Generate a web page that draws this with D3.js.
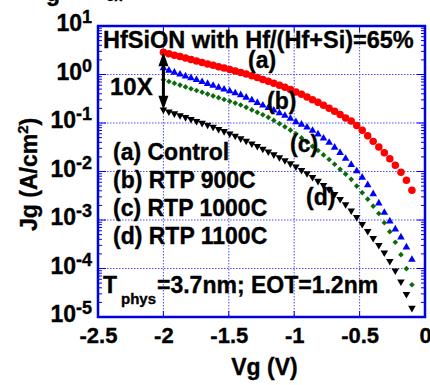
<!DOCTYPE html>
<html>
<head>
<meta charset="utf-8">
<script src="https://cdn.jsdelivr.net/npm/d3@7"></script>
<style>
    body { margin: 0; background: #fff; }
    svg text { font-family: "Liberation Sans", Arial, sans-serif; font-weight: bold; fill: #000; stroke: #000; stroke-width: 0.35px; }
</style>
</head>
<body>
<div id="container"></div>
<script>
// gate voltage sweep (V)
const vg = [-2.000, -1.958, -1.916, -1.873, -1.831, -1.789, -1.747, -1.704, -1.662, -1.620,
    -1.578, -1.536, -1.493, -1.451, -1.409, -1.367, -1.324, -1.282, -1.240, -1.198,
    -1.156, -1.113, -1.071, -1.029, -0.987, -0.944, -0.902, -0.860, -0.818, -0.776,
    -0.733, -0.691, -0.649, -0.607, -0.564, -0.522, -0.480, -0.438, -0.396, -0.353,
    -0.311, -0.269, -0.227, -0.184, -0.142, -0.100];

// leakage current density Jg (A/cm2)
const jgControl = [2.86, 2.67, 2.50, 2.34, 2.19, 2.04, 1.90, 1.77, 1.65, 1.55,
    1.45, 1.36, 1.27, 1.18, 1.10, 1.02, 0.94, 0.863, 0.792, 0.728,
    0.662, 0.601, 0.544, 0.491, 0.438, 0.391, 0.345, 0.303, 0.267, 0.233,
    0.202, 0.174, 0.150, 0.127, 0.110, 0.0887, 0.0711, 0.0547, 0.0418, 0.0321,
    0.0244, 0.0184, 0.0135, 0.00968, 0.00662, 0.00411];
const jgRtp900 = [1.35, 1.21, 1.10, 1.01, 0.923, 0.847, 0.774, 0.707, 0.646, 0.590,
    0.540, 0.493, 0.453, 0.413, 0.378, 0.336, 0.296, 0.262, 0.232, 0.206,
    0.182, 0.160, 0.142, 0.124, 0.105, 0.0931, 0.0815, 0.0700, 0.0587, 0.0484,
    0.0393, 0.0313, 0.0244, 0.0185, 0.0138, 0.0102, 0.00752, 0.00527, 0.00344, 0.00222,
    0.00142, 0.000944, 0.000646, 0.000442, 0.000275, 0.000152];
const jgRtp1000 = [0.781, 0.718, 0.659, 0.604, 0.555, 0.509, 0.468, 0.430, 0.394, 0.362,
    0.333, 0.305, 0.280, 0.257, 0.235, 0.210, 0.186, 0.166, 0.148, 0.131,
    0.113, 0.0968, 0.0832, 0.0711, 0.0601, 0.0493, 0.0404, 0.0330, 0.0271, 0.0220,
    0.0177, 0.0141, 0.0111, 0.00883, 0.00690, 0.00500, 0.00366, 0.00269, 0.00193, 0.00136,
    0.000879, 0.000574, 0.000348, 0.000193, 0.0000991, 0.0000463];
const jgRtp1100 = [0.188, 0.172, 0.157, 0.144, 0.131, 0.120, 0.109, 0.100, 0.0910, 0.0828,
    0.0748, 0.0675, 0.0604, 0.0540, 0.0479, 0.0426, 0.0376, 0.0333, 0.0292, 0.0256,
    0.0224, 0.0195, 0.0169, 0.0146, 0.0126, 0.0107, 0.00910, 0.00767, 0.00637, 0.00525,
    0.00426, 0.00340, 0.00269, 0.00210, 0.00156, 0.00114, 0.000818, 0.000587, 0.000422, 0.000302,
    0.000212, 0.000142, 0.0000902, 0.0000535, 0.0000295, 0.0000153];

const xTicks = [-2.5, -2, -1.5, -1, -0.5, 0];
const yExponents = [1, 0, -1, -2, -3, -4, -5];
const legendLabels = ["(a) Control", "(b) RTP 900C", "(c) RTP 1000C", "(d) RTP 1100C"];
const curveLabels = ["(a)", "(b)", "(c)", "(d)"];

const width = 430, height = 385;
const margin = {top: 26, right: 5, bottom: 68, left: 98};
const blue = "#0000e6";

const svg = d3.select("#container").append("svg")
    .attr("width", width)
    .attr("height", height);

const x = d3.scaleLinear().domain([-2.5, 0]).range([margin.left, width - margin.right]);
const y = d3.scaleLog().domain([1e-5, 10]).range([height - margin.bottom, margin.top]);

const x0 = x.range()[0], x1 = x.range()[1];
const yb = y.range()[0], yt = y.range()[1];

// gridlines
const grid = svg.append("g")
    .attr("stroke", "#4d4dff")
    .attr("stroke-width", 1)
    .attr("stroke-dasharray", "1.5,1.5");
grid.selectAll(".gx").data(xTicks.slice(1, -1)).enter().append("line")
    .attr("x1", d => x(d)).attr("x2", d => x(d))
    .attr("y1", yt).attr("y2", yb);
grid.selectAll(".gy").data(yExponents.slice(1, -1)).enter().append("line")
    .attr("x1", x0).attr("x2", x1)
    .attr("y1", d => y(Math.pow(10, d))).attr("y2", d => y(Math.pow(10, d)));

// ticks on all four sides, pointing in
const ticks = svg.append("g").attr("stroke", blue).attr("stroke-width", 1);
let minor = [];
for (let e = -5; e < 1; e++) {
    for (let m = 2; m < 10; m++) minor.push(m * Math.pow(10, e));
}
ticks.selectAll(".ml").data(minor).enter().append("line")
    .attr("x1", x0).attr("x2", x0 + 4)
    .attr("y1", d => y(d)).attr("y2", d => y(d));
ticks.selectAll(".mr").data(minor).enter().append("line")
    .attr("x1", x1 - 4).attr("x2", x1)
    .attr("y1", d => y(d)).attr("y2", d => y(d));
ticks.selectAll(".jl").data(yExponents).enter().append("line")
    .attr("x1", x0).attr("x2", x0 + 8)
    .attr("y1", d => y(Math.pow(10, d))).attr("y2", d => y(Math.pow(10, d)));
ticks.selectAll(".jr").data(yExponents).enter().append("line")
    .attr("x1", x1 - 8).attr("x2", x1)
    .attr("y1", d => y(Math.pow(10, d))).attr("y2", d => y(Math.pow(10, d)));
ticks.selectAll(".xb").data(xTicks).enter().append("line")
    .attr("x1", d => x(d)).attr("x2", d => x(d))
    .attr("y1", yb).attr("y2", yb - 6);
ticks.selectAll(".xt").data(xTicks).enter().append("line")
    .attr("x1", d => x(d)).attr("x2", d => x(d))
    .attr("y1", yt).attr("y2", yt + 6);

// frame
svg.append("rect")
    .attr("x", x0).attr("y", yt)
    .attr("width", x1 - x0).attr("height", yb - yt)
    .attr("fill", "none")
    .attr("stroke", blue)
    .attr("stroke-width", 2.5);

// x tick labels
const xAxis = svg.append("g")
    .attr("transform", "translate(0," + yb + ")")
    .call(d3.axisBottom(x).tickValues(xTicks).tickSize(0).tickPadding(10).tickFormat(d => String(d)));
xAxis.select(".domain").remove();
xAxis.selectAll("text")
    .attr("font-size", 22)
    .style("font-family", '"Liberation Sans", Arial, sans-serif')
    .style("font-weight", "bold")
    .attr("fill", "#000");

// y tick labels with superscript exponent
const yLab = svg.selectAll(".ylab").data(yExponents).enter().append("text")
    .attr("x", 92)
    .attr("y", d => y(Math.pow(10, d)) + 5)
    .attr("text-anchor", "end")
    .attr("font-size", 23);
yLab.append("tspan").text("10");
yLab.append("tspan").attr("font-size", 18).attr("dy", -8).text(d => String(d));

// axis titles
svg.append("text")
    .attr("x", (x0 + x1) / 2 + 3)
    .attr("y", 375)
    .attr("text-anchor", "middle")
    .attr("font-size", 23)
    .text("Vg (V)");

const yTitle = svg.append("text")
    .attr("transform", "translate(37,231) rotate(-90)")
    .attr("font-size", 23);
yTitle.append("tspan").text("Jg (A/cm");
yTitle.append("tspan").attr("font-size", 15).attr("dy", -9).text("2");
yTitle.append("tspan").attr("dy", 9).text(")");

// fragments of the caption cut off above
svg.append("text").attr("x", 46).attr("y", 1).attr("font-size", 23).text("g");
svg.append("text").attr("x", 106).attr("y", 1).attr("font-size", 14).text("ox");

// series
const series = [
    {values: jgControl, color: "#ff0000", symbol: d3.symbolCircle, size: 44, rotate: 0},
    {values: jgRtp900, color: "#0000ff", symbol: d3.symbolTriangle, size: 25, rotate: 0},
    {values: jgRtp1000, color: "#0b6b0b", symbol: d3.symbolSquare, size: 16, rotate: 45},
    {values: jgRtp1100, color: "#000000", symbol: d3.symbolTriangle, size: 25, rotate: 180}
];

series.forEach(function (s) {
    svg.append("g").selectAll("path")
        .data(s.values)
        .enter().append("path")
        .attr("d", d3.symbol().type(s.symbol).size(s.size))
        .attr("transform", (d, i) => "translate(" + x(vg[i]) + "," + y(d) + ") rotate(" + s.rotate + ")")
        .attr("fill", s.color);
});

// 10X arrow between (a) and (d) at the first bias point
const ax = x(vg[0]);
const ay1 = y(jgControl[0]), ay2 = y(jgRtp1100[0]);
svg.append("line")
    .attr("x1", ax).attr("x2", ax)
    .attr("y1", ay1 + 8).attr("y2", ay2 - 8)
    .attr("stroke", "#000").attr("stroke-width", 3);
svg.append("path")
    .attr("d", "M" + ax + "," + ay1 + "L" + (ax - 5) + "," + (ay1 + 14) + "L" + (ax + 5) + "," + (ay1 + 14) + "Z")
    .attr("fill", "#000");
svg.append("path")
    .attr("d", "M" + ax + "," + ay2 + "L" + (ax - 5) + "," + (ay2 - 14) + "L" + (ax + 5) + "," + (ay2 - 14) + "Z")
    .attr("fill", "#000");
svg.append("text").attr("x", 110).attr("y", 95).attr("font-size", 24).text("10X");

// texts inside the plot
svg.append("text").attr("x", 103).attr("y", 48).attr("font-size", 23.5).text("HfSiON with Hf/(Hf+Si)=65%");

svg.selectAll(".leg").data(legendLabels).enter().append("text")
    .attr("x", 113)
    .attr("y", (d, i) => 160 + i * 28)
    .attr("font-size", 23)
    .text(d => d);

const curvePos = [[248, 68], [267, 109], [290, 152], [306, 205]];
svg.selectAll(".cl").data(curveLabels).enter().append("text")
    .attr("x", (d, i) => curvePos[i][0])
    .attr("y", (d, i) => curvePos[i][1])
    .attr("font-size", 23)
    .text(d => d);

svg.append("text").attr("x", 103).attr("y", 293).attr("font-size", 23).text("T");
svg.append("text").attr("x", 121).attr("y", 304).attr("font-size", 15).text("phys");
svg.append("text").attr("x", 157).attr("y", 293).attr("font-size", 23).text("=3.7nm; EOT=1.2nm");
</script>
</body>
</html>
